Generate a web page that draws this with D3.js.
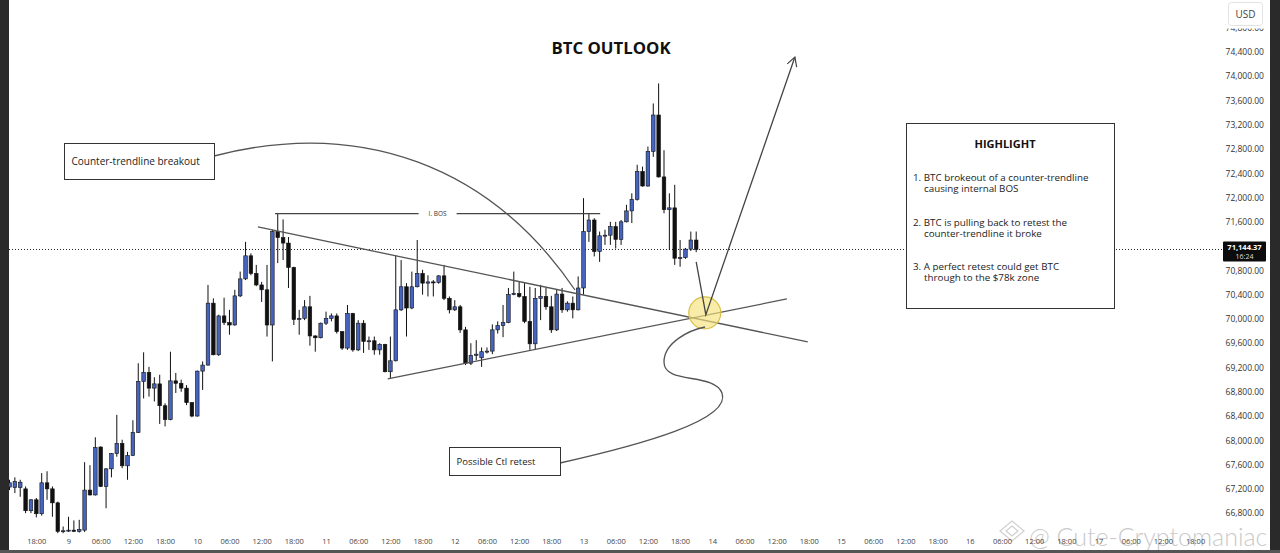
<!DOCTYPE html>
<html>
<head>
<meta charset="utf-8">
<script src="https://cdn.jsdelivr.net/npm/d3@7"></script>
<style>
  body { margin: 0; background: #fff; overflow: hidden; }
  svg { display: block; font-family: "Open Sans", "Noto Sans", sans-serif; }
</style>
</head>
<body>
<div id="chart"></div>
<script>
// Hourly BTC candles, first one is Mar 8 13:00, one per hour after that
const firstCandle = new Date(2024, 2, 8, 13);
// [open, high, low, close]
const candles = [
  [67230, 67350, 67180, 67300], [67220, 67390, 67130, 67320], [67220, 67350, 67070, 67310],
  [67200, 67240, 66800, 66840], [66840, 67030, 66800, 67020], [67020, 67050, 66730, 66790],
  [66790, 67460, 66760, 67300], [67300, 67490, 67020, 67200], [67200, 67240, 66740, 66970],
  [66970, 66990, 66470, 66500], [66500, 66580, 66470, 66510], [66510, 66740, 66490, 66520],
  [66520, 66680, 66490, 66500], [66500, 66690, 66480, 66530], [66520, 67640, 66490, 67180],
  [67180, 67590, 67090, 67100], [67100, 68050, 67090, 67880], [67890, 67900, 67230, 67240],
  [67240, 67540, 66880, 67530], [67530, 67790, 67390, 67780], [67780, 68420, 67730, 67950],
  [67950, 68010, 67540, 67580], [67580, 67810, 67350, 67750], [67750, 68330, 67740, 68130],
  [68130, 69270, 68120, 68970], [68970, 69450, 68690, 69120], [69120, 69210, 68720, 68860],
  [68860, 69040, 68640, 68930], [68930, 69080, 68270, 68570], [68570, 68610, 68230, 68340],
  [68340, 69460, 68330, 68980], [68980, 69110, 68780, 68940], [68940, 69000, 68800, 68860],
  [68860, 68910, 68580, 68620], [68620, 68630, 68380, 68400], [68400, 69150, 68390, 69140],
  [69140, 69300, 68830, 69240], [69240, 70560, 69230, 70260], [70260, 70340, 69400, 69410],
  [69410, 70070, 69390, 70050], [70050, 70350, 69900, 69940], [69940, 70150, 69740, 69900],
  [69900, 70480, 69890, 70380], [70380, 70780, 70360, 70660], [70660, 71270, 70640, 71040],
  [71040, 71080, 70720, 70750], [70750, 70890, 70540, 70560], [70560, 70610, 70280, 70480],
  [70480, 70890, 69710, 69900], [69900, 71470, 69300, 71440], [71440, 71740, 70920, 71340],
  [71340, 71640, 70970, 71250], [71250, 71350, 70510, 70850], [70850, 70860, 69900, 69990],
  [69990, 70150, 69740, 70010], [70010, 70310, 69980, 70200], [70200, 70380, 69560, 69720],
  [69720, 69730, 69460, 69690], [69690, 69940, 69680, 69930], [69930, 70120, 69900, 70010],
  [70010, 70090, 69960, 70050], [70050, 70090, 69760, 69790], [69790, 69800, 69490, 69520],
  [69520, 70230, 69490, 70090], [70090, 70100, 69460, 69490], [69490, 69980, 69470, 69930],
  [69930, 69980, 69440, 69630], [69630, 69710, 69490, 69640], [69640, 69710, 69410, 69490],
  [69490, 69600, 69410, 69580], [69580, 69590, 69120, 69130], [69130, 69710, 69020, 69310],
  [69310, 71050, 69300, 70150], [70150, 70970, 70130, 70530], [70530, 70590, 69710, 70180],
  [70180, 70780, 70160, 70530], [70530, 71300, 70520, 70750], [70750, 70810, 70400, 70590],
  [70590, 70720, 70370, 70610], [70610, 70640, 70370, 70600], [70600, 70720, 70580, 70710],
  [70710, 70890, 70310, 70340], [70340, 70370, 70090, 70150], [70150, 70310, 70130, 70200],
  [70200, 70230, 69770, 69820], [69820, 69870, 69240, 69270], [69270, 69600, 69240, 69400],
  [69400, 69650, 69320, 69420], [69360, 69530, 69210, 69460], [69460, 69530, 69430, 69470],
  [69470, 69910, 69420, 69820], [69820, 69960, 69760, 69890], [69890, 70230, 69700, 69940],
  [69940, 70510, 69930, 70400], [70400, 70780, 70390, 70420], [70420, 70610, 70350, 70370],
  [70370, 70590, 69930, 69960], [69960, 70530, 69490, 69590], [69590, 70510, 69490, 70340],
  [70340, 70560, 69980, 70370], [70370, 70510, 70150, 70200], [70200, 70380, 69770, 69820],
  [69820, 70490, 69800, 70410], [70410, 70510, 70100, 70150], [70150, 70290, 70120, 70260],
  [70260, 70370, 70010, 70150], [70150, 70700, 70140, 70510], [70510, 71990, 70400, 71440],
  [71440, 71740, 71270, 71630], [71630, 71660, 71030, 71110], [71110, 71440, 70940, 71370],
  [71370, 71470, 71220, 71380], [71380, 71600, 71220, 71520], [71520, 71600, 71160, 71310],
  [71310, 71630, 71220, 71600], [71600, 71880, 71590, 71780], [71780, 72070, 71580, 71970],
  [71970, 72540, 71950, 72430], [72430, 72510, 72180, 72190], [72190, 72840, 72180, 72760],
  [72760, 73550, 72670, 73360], [73360, 73880, 72330, 72340], [72340, 72780, 71740, 71800],
  [71800, 72070, 71140, 71830], [71830, 72210, 70890, 71000], [71000, 71300, 70860, 71010],
  [71010, 71170, 70990, 71150], [71150, 71440, 71120, 71300], [71300, 71440, 71100, 71144.37]
];

const priceTicks = [66800, 67200, 67600, 68000, 68400, 68800, 69200, 69600, 70000, 70400,
                    70800, 71200, 71600, 72000, 72400, 72800, 73200, 73600, 74000, 74400, 74800];
const lastPrice = 71144.37;
const countdown = '16:24';

// drawing anchors, as [hours after Mar 9 00:00, price]
const descLine = [[35.3, 71515], [137.8, 69621]];
const ascLine = [[59.5, 69012], [133.9, 70329]];
const bosLine = [[38.5, 71735], [99.1, 71735]];
const retestPoint = [118.6, 70100];
const arrowPath = [[117, 70940], [118.8, 70070], [135.4, 74315]];

const title = 'BTC OUTLOOK';
const highlightTitle = 'HIGHLIGHT';
const highlightLines = [
  ['1. BTC brokeout of a counter-trendline', 'causing internal BOS'],
  ['2. BTC is pulling back to retest the', 'counter-trendline it broke'],
  ['3. A perfect retest could get BTC', 'through to the $78k zone']
];

const W = 1280, H = 553;
const paneL = 9, paneR = 1222, paneB = 535;

const svg = d3.select('#chart').append('svg')
    .attr('width', W).attr('height', H);

const day9 = new Date(2024, 2, 9);
const hr = h => new Date(+day9 + h * 3600e3);

// scales
const x = d3.scaleTime()
    .domain([hr(-11.28), hr(216)])
    .range([8, 1227.3]);
const y = d3.scaleLinear()
    .domain([66440, 75255])
    .range([paneB, 0]);

svg.append('defs').append('clipPath').attr('id', 'pane')
  .append('rect').attr('x', paneL).attr('y', 0).attr('width', paneR - paneL).attr('height', paneB);
svg.select('defs').append('marker')
    .attr('id', 'head').attr('markerUnits', 'userSpaceOnUse')
    .attr('markerWidth', 14).attr('markerHeight', 14)
    .attr('refX', 10).attr('refY', 5).attr('orient', 'auto')
  .append('path').attr('d', 'M1,0 L10,5 L1,10')
    .attr('fill', 'none').attr('stroke', '#444').attr('stroke-width', 1.2);

// watermark (sits behind everything, like the original)
const wm = svg.append('g');
wm.append('path').attr('d', 'M1012,521 L1024,531 L1012,541 L1000,531 Z M1012,526 L1018,531 L1012,536 L1006,531 Z')
    .attr('fill', 'none').attr('stroke', '#cfcfcf').attr('stroke-width', 1.2);
wm.append('text').attr('x', 1029).attr('y', 546).attr('font-size', 25)
    .attr('font-family', 'Lato, "Open Sans", sans-serif').attr('font-weight', 300)
    .attr('fill', '#cacaca').text('@ Cute-Cryptomaniac');

const pane = svg.append('g').attr('clip-path', 'url(#pane)');

// last price dotted line
pane.append('line')
    .attr('x1', paneL).attr('x2', paneR)
    .attr('y1', y(lastPrice)).attr('y2', y(lastPrice))
    .attr('stroke', '#222').attr('stroke-width', 1).attr('stroke-dasharray', '1,2');

// candles
const bull = '#4664bd';
const cg = pane.append('g');
const rows = candles.map((d, i) => ({
  t: new Date(+firstCandle + i * 3600e3), o: d[0], h: d[1], l: d[2], c: d[3]
}));
cg.selectAll('line.wick').data(rows).enter().append('line')
    .attr('class', 'wick')
    .attr('x1', d => x(d.t)).attr('x2', d => x(d.t))
    .attr('y1', d => y(d.h)).attr('y2', d => y(d.l))
    .attr('stroke', '#111').attr('stroke-width', 1);
cg.selectAll('rect.body').data(rows).enter().append('rect')
    .attr('class', 'body')
    .attr('x', d => x(d.t) - 1.8)
    .attr('width', 3.6)
    .attr('y', d => y(Math.max(d.o, d.c)))
    .attr('height', d => Math.max(1, Math.abs(y(d.o) - y(d.c))))
    .attr('fill', d => d.c >= d.o ? bull : '#111')
    .attr('stroke', '#111').attr('stroke-width', 0.6);

// trendlines
const line = d3.line().x(d => x(hr(d[0]))).y(d => y(d[1]));
[descLine, ascLine].forEach(pts => {
  pane.append('path').attr('d', line(pts))
      .attr('fill', 'none').attr('stroke', '#555').attr('stroke-width', 1.3);
});

// BOS line with label gap
const bx1 = x(hr(bosLine[0][0])), bx2 = x(hr(bosLine[1][0])), by = y(bosLine[0][1]);
const bmid = (bx1 + bx2) / 2;
pane.append('line').attr('x1', bx1).attr('x2', bmid - 19).attr('y1', by).attr('y2', by)
    .attr('stroke', '#444').attr('stroke-width', 1.2);
pane.append('line').attr('x1', bmid + 19).attr('x2', bx2).attr('y1', by).attr('y2', by)
    .attr('stroke', '#444').attr('stroke-width', 1.2);
pane.append('text').attr('x', bmid).attr('y', by + 2.3)
    .attr('text-anchor', 'middle').attr('font-size', 6.5).attr('fill', '#333').text('I. BOS');

// breakout arc from label box
pane.append('path')
    .attr('d', 'M214,156 C360,118 490,165 575,290')
    .attr('fill', 'none').attr('stroke', '#555').attr('stroke-width', 1.3);

// retest circle
pane.append('circle')
    .attr('cx', x(hr(retestPoint[0]))).attr('cy', y(retestPoint[1])).attr('r', 16)
    .attr('fill', '#f4e27a').attr('fill-opacity', 0.65)
    .attr('stroke', '#d8c14a').attr('stroke-width', 1.2);

// s-curve to retest label
pane.append('path')
    .attr('d', 'M560,463 C640,445 732,420 722,393 C714,372 664,385 664,362 C664,342 690,330 705,327')
    .attr('fill', 'none').attr('stroke', '#555').attr('stroke-width', 1.3);

// projection arrow
pane.append('path').attr('d', line(arrowPath))
    .attr('fill', 'none').attr('stroke', '#444').attr('stroke-width', 1.3)
    .attr('marker-end', 'url(#head)');

// label boxes
function labelBox(x0, y0, w, h, txt, fs) {
  svg.append('rect').attr('x', x0).attr('y', y0).attr('width', w).attr('height', h)
      .attr('fill', '#fff').attr('stroke', '#333').attr('stroke-width', 1);
  svg.append('text').attr('x', x0 + 7).attr('y', y0 + h / 2 + fs * 0.36)
      .attr('font-size', fs).attr('fill', '#222').text(txt);
}
labelBox(64.5, 143.5, 150, 36, 'Counter-trendline breakout', 10);
labelBox(449.5, 447.5, 111, 28, 'Possible Ctl retest', 9.5);

// title
svg.append('text').attr('x', 611).attr('y', 54).attr('text-anchor', 'middle')
    .attr('font-size', 16.8).attr('font-weight', 700).attr('fill', '#111').text(title);

// highlight box
svg.append('rect').attr('x', 906.5).attr('y', 123.5).attr('width', 208).attr('height', 185)
    .attr('fill', '#fff').attr('stroke', '#333').attr('stroke-width', 1);
svg.append('text').attr('x', 1005).attr('y', 148).attr('text-anchor', 'middle')
    .attr('font-size', 11).attr('font-weight', 700).attr('fill', '#111').text(highlightTitle);
highlightLines.forEach((pair, i) => {
  const yy = 181 + i * 44.5;
  svg.append('text').attr('x', 913).attr('y', yy).attr('font-size', 9.8).attr('fill', '#222').text(pair[0]);
  svg.append('text').attr('x', 924).attr('y', yy + 11).attr('font-size', 9.8).attr('fill', '#222').text(pair[1]);
});

// price axis
const yAxis = svg.append('g')
    .attr('transform', 'translate(1264,0)')
    .call(d3.axisLeft(y).tickValues(priceTicks).tickSize(0).tickPadding(0).tickFormat(d3.format(',.2f')));
yAxis.select('.domain').remove();
yAxis.selectAll('text').attr('font-size', 8.5).attr('fill', '#333')
    .attr('font-family', '"Open Sans", sans-serif');

// time axis
const tTicks = d3.timeHour.every(6).range(hr(-6), hr(211));
const xAxis = svg.append('g')
    .attr('transform', `translate(0,${paneB})`)
    .call(d3.axisBottom(x).tickValues(tTicks).tickSize(0).tickPadding(4)
      .tickFormat(d => d.getHours() === 0 ? d3.timeFormat('%-d')(d) : d3.timeFormat('%H:%M')(d)));
xAxis.select('.domain').remove();
xAxis.selectAll('text').attr('font-size', 7.5).attr('fill', '#444')
    .attr('font-family', '"Open Sans", sans-serif');

// last price tag
const ly = y(lastPrice);
svg.append('rect').attr('x', 1223).attr('y', ly - 8).attr('width', 43).attr('height', 20)
    .attr('fill', '#0c0c0c').attr('rx', 1);
svg.append('text').attr('x', 1244.5).attr('y', ly + 1).attr('text-anchor', 'middle')
    .attr('font-size', 7.5).attr('font-weight', 700).attr('fill', '#fff')
    .text(d3.format(',.2f')(lastPrice));
svg.append('text').attr('x', 1244.5).attr('y', ly + 9.5).attr('text-anchor', 'middle')
    .attr('font-size', 7).attr('fill', '#ddd').text(countdown);

// currency badge, covering the top of the first price label
svg.append('rect').attr('x', 1226).attr('y', 0).attr('width', 40).attr('height', 28.5)
    .attr('fill', '#fff');
svg.append('rect').attr('x', 1228.5).attr('y', 2.5).attr('width', 34).attr('height', 23)
    .attr('fill', '#fff').attr('stroke', '#e3e3e3').attr('rx', 3);
svg.append('text').attr('x', 1245.5).attr('y', 18).attr('text-anchor', 'middle')
    .attr('font-size', 10).attr('fill', '#444').text('USD');

// frame strips
svg.append('rect').attr('x', 0).attr('y', 0).attr('width', 9).attr('height', H).attr('fill', '#2a2a2a');
svg.append('rect').attr('x', 1270).attr('y', 0).attr('width', 10).attr('height', H).attr('fill', '#2a2a2a');
svg.append('rect').attr('x', 0).attr('y', 550).attr('width', W).attr('height', 3).attr('fill', '#555');
</script>
</body>
</html>
